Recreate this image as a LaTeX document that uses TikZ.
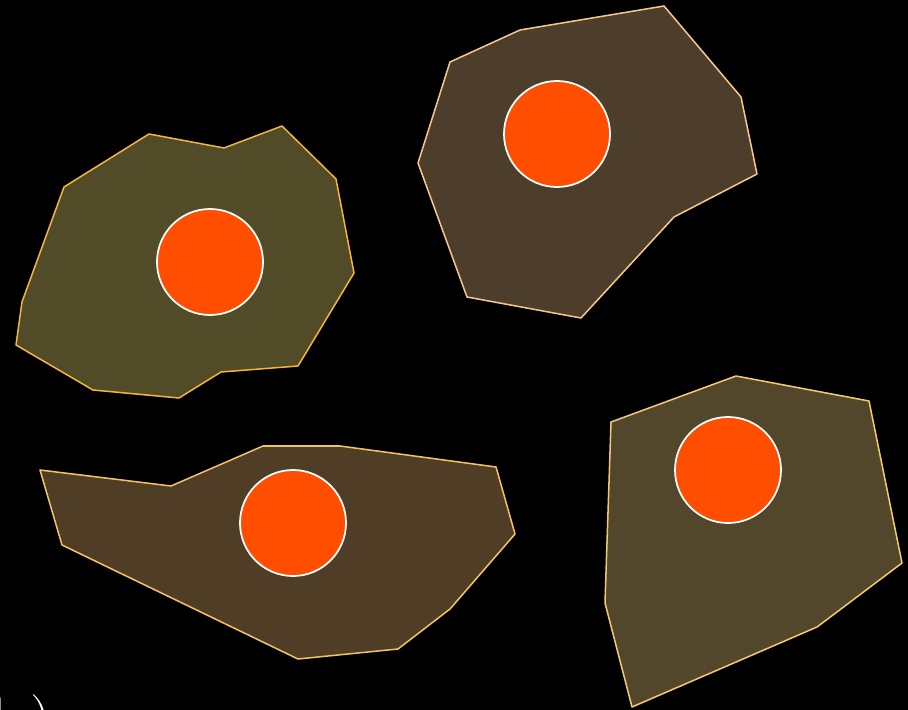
\documentclass[tikz,border=0pt]{standalone}
\usepackage{fontspec}
\usepackage{tikz}
\usetikzlibrary{positioning}
\definecolor{bgclr}{RGB}{0,0,0}
\definecolor{nucclr}{RGB}{255,78,0}
\definecolor{cellAfill}{RGB}{82,75,40}
\definecolor{cellAedge}{RGB}{242,180,58}
\definecolor{cellBfill}{RGB}{77,62,43}
\definecolor{cellBedge}{RGB}{247,197,138}
\definecolor{cellCfill}{RGB}{80,61,38}
\definecolor{cellCedge}{RGB}{242,194,101}
\definecolor{cellDfill}{RGB}{82,71,43}
\definecolor{cellDedge}{RGB}{245,200,112}
\tikzset{
  cell/.style={line width=1.3pt,line join=round},
  cellA/.style={cell,draw=cellAedge,fill=cellAfill},
  cellB/.style={cell,draw=cellBedge,fill=cellBfill},
  cellC/.style={cell,draw=cellCedge,fill=cellCfill},
  cellD/.style={cell,draw=cellDedge,fill=cellDfill},
  nucleus/.style={circle,draw=white,fill=nucclr,line width=1.5pt,
                  minimum size=3.18cm,inner sep=0pt},
  tag/.style={anchor=base west,inner sep=0pt,text=white,
              font=\fontsize{51pt}{60pt}\selectfont},
}
\begin{document}
\begin{tikzpicture}[x=0.03cm,y=-0.03cm]
\useasboundingbox (0,0) rectangle (908,710);
\fill[bgclr] (0,0) rectangle (908,710);

% Cell outlines
\draw[cellA] (64,187) -- (149,134) -- (224,148) -- (282,126) -- (336,179)
  -- (354,273) -- (298,366) -- (221,372) -- (179,398) -- (93,390)
  -- (16,345) -- (22,302) -- cycle;
\draw[cellB] (450,62) -- (520,30) -- (664,6) -- (741,97) -- (757,174)
  -- (674,217) -- (581,318) -- (467,297) -- (418,163) -- cycle;
\draw[cellC] (40,470) -- (171,486) -- (263,446) -- (340,446) -- (496,467)
  -- (515,534) -- (450,609) -- (398,649) -- (298,659) -- (62,545) -- cycle;
\draw[cellD] (611,422) -- (736,376) -- (869,401) -- (902,563) -- (817,627)
  -- (632,707) -- (605,603) -- cycle;

% Nuclei
\node[nucleus] (nucA) at (210,262) {};
\node[nucleus] (nucB) at (557,134) {};
\node[nucleus] (nucC) at (293,523) {};
\node[nucleus] (nucD) at (728,470) {};

% Panel tag
\node[tag] (panel) at (-24,739) {d\kern20pt)};
\end{tikzpicture}
\end{document}
